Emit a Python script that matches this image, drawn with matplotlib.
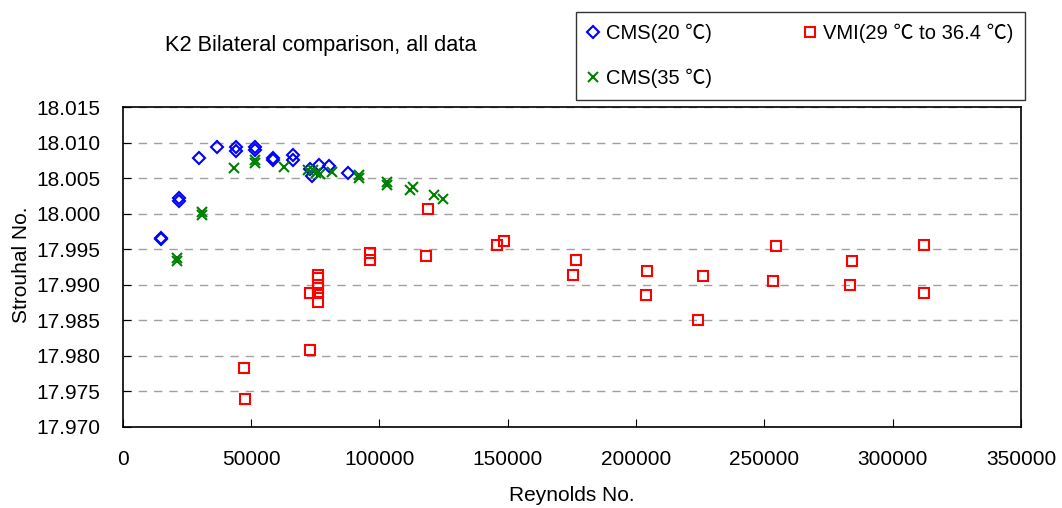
import matplotlib.pyplot as plt
import numpy as np

plt.rcParams['font.family'] = ['Liberation Sans', 'Noto Sans CJK SC', 'DejaVu Sans']

# CMS a 20 degres
re_cms20 = [14930, 14930, 22060, 22060, 29620, 36870, 44280, 44280, 51560, 51560,
            58580, 58580, 66260, 66260, 73000, 73600, 76300, 80500, 87600]
st_cms20 = [17.9966, 17.9964, 18.0022, 18.0018, 18.0078, 18.0094, 18.0094, 18.0089, 18.0094, 18.0090,
            18.0078, 18.0076, 18.0083, 18.0076, 18.0063, 18.0053, 18.0068, 18.0067, 18.0057]

# CMS a 35 degres
re_cms35 = [21280, 21280, 30900, 30900, 43260, 51680, 51680, 62990, 72340, 74290,
            76900, 75500, 81460, 92220, 92220, 102900, 102900, 111980, 113030, 121330, 124720]
st_cms35 = [17.9937, 17.9933, 18.0003, 17.9998, 18.0065, 18.0075, 18.0071, 18.0066, 18.0062, 18.0061,
            18.0056, 18.0058, 18.0059, 18.0054, 18.0050, 18.0044, 18.0040, 18.0034, 18.0037, 18.0026, 18.0020]

# VMI (29 a 36.4 degres)
re_vmi = [47300, 47700, 73000, 73120, 76120, 76120, 76120, 76120, 76120, 76120,
          96390, 96390, 118880, 118330, 145890, 148500, 176680, 175500, 204230, 203960,
          226060, 223950, 254360, 253460, 284250, 283200, 312310, 312310]
st_vmi = [17.9783, 17.9739, 17.9888, 17.9808, 17.9914, 17.9910, 17.9900, 17.9895, 17.9888, 17.9875,
          17.9944, 17.9935, 18.0006, 17.9940, 17.9956, 17.9962, 17.99345, 17.9913, 17.9919, 17.9885,
          17.9912, 17.9850, 17.9954, 17.9905, 17.9933, 17.9899, 17.9956, 17.9889]

fig = plt.figure(figsize=(10.62, 5.08), dpi=100)
ax = fig.add_axes([0.1155, 0.16, 0.846, 0.629])

ax.plot(re_cms20, st_cms20, 'D', ms=6, mfc='none', mec='#0000ff', mew=1.5, ls='none', label='CMS(20 ℃)')
ax.plot(re_cms35, st_cms35, 'x', ms=7.5, mec='#008000', mew=1.5, ls='none', label='CMS(35 ℃)')
ax.plot(re_vmi, st_vmi, 's', ms=7, mfc='none', mec='#ff0000', mew=1.5, ls='none', label='VMI(29 ℃ to 36.4 ℃)')

ax.set_xlim(0, 350000)
ax.set_ylim(17.970, 18.015)
ax.set_xticks(np.arange(0, 350001, 50000))
ax.set_yticks(np.arange(17.970, 18.0151, 0.005))
ax.set_yticklabels(['%.3f' % v for v in np.arange(17.970, 18.0151, 0.005)])
ax.tick_params(direction='in', length=6, labelsize=15, colors='black')
ax.tick_params(axis='x', pad=17)
ax.tick_params(axis='y', pad=16)
ax.grid(axis='y', color='#a0a0a0', ls=(0, (6, 5)), lw=1)
for s in ax.spines.values():
    s.set_linewidth(1.2)

ax.set_xlabel('Reynolds No.', fontsize=15)
ax.set_ylabel('Strouhal No.', fontsize=15)
ax.xaxis.set_label_coords(0.5, -0.185)
ax.yaxis.set_label_coords(-0.102, 0.506)

fig.text(0.155, 0.91, 'K2 Bilateral comparison, all data', fontsize=15.7, va='center')

leg = ax.legend(ncol=2, loc='upper left', bbox_to_anchor=(0.5421, 0.977), bbox_transform=fig.transFigure,
                fontsize=14.5, frameon=True, fancybox=False, edgecolor='black', handlelength=0.5,
                handletextpad=0.4, columnspacing=4.6, labelspacing=1.25, borderpad=0.6, borderaxespad=0)
leg.get_frame().set_linewidth(1)

fig.savefig('out.png', dpi=100)
